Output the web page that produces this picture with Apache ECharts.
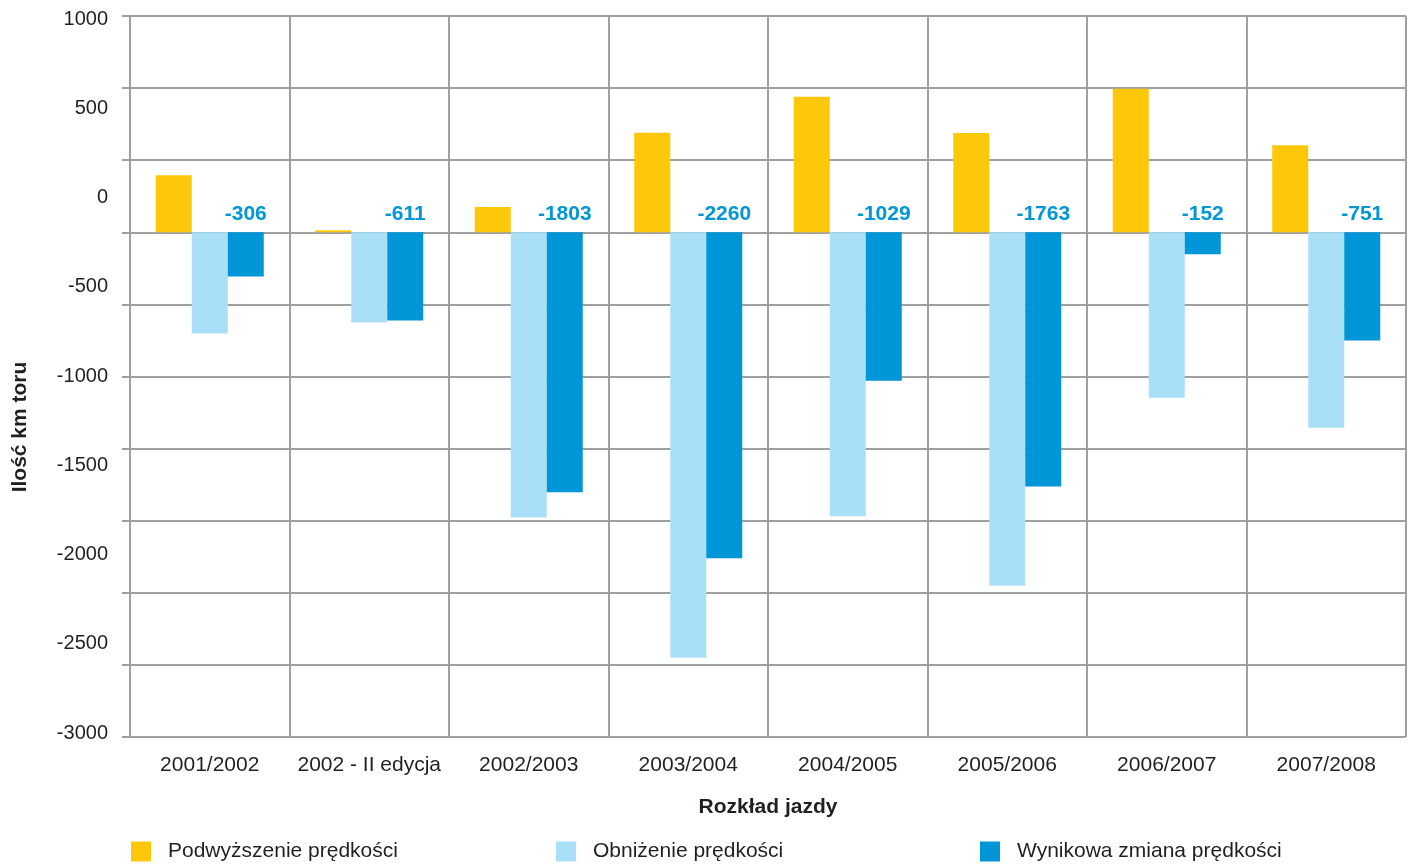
<!DOCTYPE html>
<html>
<head>
<meta charset="utf-8">
<script src="https://cdn.jsdelivr.net/npm/echarts@6/dist/echarts.min.js"></script>
<style>
  html, body { margin: 0; padding: 0; background: #fff; }
  #main { width: 1413px; height: 865px; }
</style>
</head>
<body>
<div id="main"></div>
<script>
// rozkłady jazdy
var categories = ['2001/2002', '2002 - II edycja', '2002/2003', '2003/2004', '2004/2005', '2005/2006', '2006/2007', '2007/2008'];
var podwyzszenie = [395, 14, 175, 690, 940, 688, 995, 604];
var obnizenie = [-701, -625, -1978, -2950, -1969, -2451, -1147, -1355];
var wynikowa = [-306, -611, -1803, -2260, -1029, -1763, -152, -751];
var seriesNames = ['Podwyższenie prędkości', 'Obniżenie prędkości', 'Wynikowa zmiana prędkości'];

var font = 'Arial, "Liberation Sans", sans-serif';
var txt = '#231f20';
var grid = '#a0a0a3';

var chart = echarts.init(document.getElementById('main'));
var option = {
  animation: false,
  textStyle: { fontFamily: font },
  grid: [
    { left: 130, right: 7, top: 16, bottom: 128, containLabel: false },
    // siatka tylko dla etykiet osi Y (rozstaw jak w oryginale)
    { left: 130, right: 7, top: 19, bottom: 132, containLabel: false }
  ],
  graphic: [{
    type: 'text',
    x: 20,
    y: 427,
    rotation: Math.PI / 2,
    style: {
      text: 'Ilość km toru',
      font: 'bold 21px Arial, "Liberation Sans", sans-serif',
      fill: txt,
      textAlign: 'center',
      textVerticalAlign: 'middle'
    }
  }],
  legend: [0, 1, 2].map(function (i) {
    return {
      data: [seriesNames[i]],
      left: [126, 551, 975][i],
      top: 836,
      icon: 'rect',
      itemWidth: 20,
      itemHeight: 20,
      textStyle: { fontSize: 21, color: txt, fontFamily: font, padding: [3, 0, 0, 12] }
    };
  }),
  xAxis: [{
    type: 'category',
    gridIndex: 0,
    data: categories,
    name: 'Rozkład jazdy',
    nameLocation: 'middle',
    nameGap: 60,
    nameTextStyle: { fontSize: 21, fontWeight: 'bold', color: txt },
    axisLine: { show: false },
    axisTick: { show: false },
    axisLabel: { fontSize: 21, color: txt, margin: 18, interval: 0 },
    splitLine: { show: true, interval: 0, lineStyle: { color: grid, width: 2 } }
  }, {
    type: 'category',
    gridIndex: 1,
    data: categories,
    show: false
  }],
  yAxis: [{
    type: 'value',
    gridIndex: 0,
    min: -3500,
    max: 1500,
    interval: 500,
    axisLine: { show: true, lineStyle: { color: grid, width: 2 } },
    axisTick: { show: true, length: 8, lineStyle: { color: grid, width: 2 } },
    axisLabel: { show: false },
    splitLine: { show: true, lineStyle: { color: grid, width: 2 } }
  }, {
    type: 'value',
    gridIndex: 1,
    position: 'left',
    min: -3000,
    max: 1000,
    interval: 500,
    axisLine: { show: false },
    axisTick: { show: false },
    splitLine: { show: false },
    axisLabel: {
      fontSize: 20,
      color: txt,
      margin: 22,
      formatter: function (v) { return String(v); }
    }
  }],
  series: [{
    name: seriesNames[0],
    type: 'bar',
    data: podwyzszenie,
    barWidth: 36,
    barGap: '0%',
    itemStyle: { color: '#fec80a' }
  }, {
    name: seriesNames[1],
    type: 'bar',
    data: obnizenie,
    barWidth: 36,
    barGap: '0%',
    itemStyle: { color: '#aadff8' }
  }, {
    name: seriesNames[2],
    type: 'bar',
    data: wynikowa,
    barWidth: 36,
    barGap: '0%',
    itemStyle: { color: '#0096d8' },
    label: {
      show: true,
      position: 'top',
      distance: 8,
      fontSize: 21,
      fontWeight: 'bold',
      color: '#0096d8'
    }
  }]
};
chart.setOption(option);
</script>
</body>
</html>
